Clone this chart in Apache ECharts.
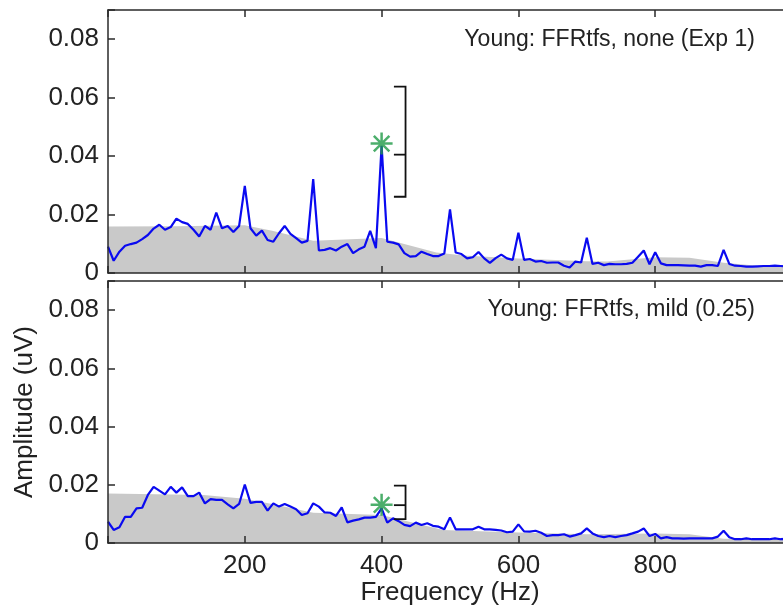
<!DOCTYPE html>
<html>
<head>
<meta charset="utf-8">
<script src="https://cdn.jsdelivr.net/npm/echarts@6/dist/echarts.min.js"></script>
<style>
html,body{margin:0;padding:0;background:#fff;overflow:hidden;width:783px;height:610px;}
#chart{width:800px;height:610px;}
</style>
</head>
<body>
<div id="chart"></div>
<script>
// Frequency bins (Hz)
var freq = [0, 8.3, 16.7, 25, 33.3, 41.7, 50, 58.3, 66.7, 75, 83.3, 91.7, 100, 108.3, 116.7, 125, 133.3, 141.7, 150, 158.3, 166.7, 175, 183.3, 191.7, 200, 208.3, 216.7, 225, 233.3, 241.7, 250, 258.3, 266.7, 275, 283.3, 291.7, 300, 308.3, 316.7, 325, 333.3, 341.7, 350, 358.3, 366.7, 375, 383.3, 391.7, 400, 408.3, 416.7, 425, 433.3, 441.7, 450, 458.3, 466.7, 475, 483.3, 491.7, 500, 508.3, 516.7, 525, 533.3, 541.7, 550, 558.3, 566.7, 575, 583.3, 591.7, 600, 608.3, 616.7, 625, 633.3, 641.7, 650, 658.3, 666.7, 675, 683.3, 691.7, 700, 708.3, 716.7, 725, 733.3, 741.7, 750, 758.3, 766.7, 775, 783.3, 791.7, 800, 808.3, 816.7, 825, 833.3, 841.7, 850, 858.3, 866.7, 875, 883.3, 891.7, 900, 908.3, 916.7, 925, 933.3, 941.7, 950, 958.3, 966.7, 975, 983.3, 991.7, 1000];

// Top panel: Young: FFRtfs, none (Exp 1)
var ampNone = [0.0090, 0.0042, 0.0073, 0.0093, 0.0099, 0.0104, 0.0116, 0.0130, 0.0152, 0.0165, 0.0148, 0.0157, 0.0186, 0.0174, 0.0168, 0.0148, 0.0125, 0.0161, 0.0148, 0.0207, 0.0153, 0.0161, 0.0140, 0.0161, 0.0298, 0.0153, 0.0128, 0.0145, 0.0113, 0.0107, 0.0136, 0.0161, 0.0134, 0.0119, 0.0104, 0.0110, 0.0321, 0.0077, 0.0079, 0.0085, 0.0077, 0.0090, 0.0099, 0.0068, 0.0081, 0.0090, 0.0144, 0.0085, 0.0435, 0.0107, 0.0104, 0.0098, 0.0068, 0.0056, 0.0058, 0.0073, 0.0065, 0.0058, 0.0058, 0.0067, 0.0218, 0.0070, 0.0065, 0.0050, 0.0054, 0.0072, 0.0050, 0.0035, 0.0051, 0.0063, 0.0050, 0.0045, 0.0138, 0.0045, 0.0048, 0.0039, 0.0041, 0.0035, 0.0036, 0.0036, 0.0025, 0.0019, 0.0039, 0.0036, 0.0121, 0.0031, 0.0035, 0.0027, 0.0031, 0.0030, 0.0030, 0.0031, 0.0035, 0.0056, 0.0077, 0.0030, 0.0071, 0.0033, 0.0027, 0.0027, 0.0027, 0.0026, 0.0025, 0.0025, 0.0022, 0.0027, 0.0027, 0.0024, 0.0079, 0.0031, 0.0025, 0.0024, 0.0022, 0.0022, 0.0023, 0.0024, 0.0024, 0.0025, 0.0024, 0.0023, 0.0022];

// Bottom panel: Young: FFRtfs, mild (0.25)
var ampMild = [0.0073, 0.0045, 0.0054, 0.0090, 0.0090, 0.0119, 0.0121, 0.0165, 0.0193, 0.0180, 0.0167, 0.0193, 0.0173, 0.0191, 0.0161, 0.0161, 0.0173, 0.0136, 0.0151, 0.0148, 0.0148, 0.0133, 0.0119, 0.0134, 0.0201, 0.0138, 0.0141, 0.0141, 0.0111, 0.0136, 0.0125, 0.0134, 0.0125, 0.0116, 0.0096, 0.0102, 0.0136, 0.0125, 0.0105, 0.0104, 0.0093, 0.0122, 0.0071, 0.0077, 0.0081, 0.0087, 0.0087, 0.0090, 0.0119, 0.0070, 0.0085, 0.0075, 0.0062, 0.0058, 0.0070, 0.0062, 0.0068, 0.0059, 0.0056, 0.0047, 0.0088, 0.0047, 0.0047, 0.0047, 0.0047, 0.0056, 0.0047, 0.0047, 0.0045, 0.0043, 0.0037, 0.0039, 0.0064, 0.0040, 0.0039, 0.0042, 0.0035, 0.0024, 0.0027, 0.0027, 0.0030, 0.0022, 0.0027, 0.0033, 0.0050, 0.0033, 0.0024, 0.0020, 0.0024, 0.0020, 0.0024, 0.0027, 0.0033, 0.0039, 0.0050, 0.0024, 0.0031, 0.0016, 0.0020, 0.0016, 0.0016, 0.0015, 0.0016, 0.0016, 0.0016, 0.0016, 0.0016, 0.0022, 0.0042, 0.0020, 0.0013, 0.0013, 0.0016, 0.0013, 0.0013, 0.0013, 0.0013, 0.0016, 0.0013, 0.0014, 0.0013];

// Noise floor (gray shaded)
var noiseFreqNone = [0, 100, 200, 240, 300, 400, 480, 520, 600, 700, 730, 800, 850, 900, 950, 1000];
var noiseNone     = [0.0159, 0.0160, 0.0163, 0.0145, 0.0110, 0.0120, 0.0070, 0.0060, 0.0050, 0.0040, 0.0039, 0.0054, 0.0052, 0.0035, 0.0025, 0.0022];
var noiseFreqMild = [0, 140, 200, 240, 300, 400, 490, 600, 700, 800, 850, 900, 1000];
var noiseMild     = [0.0170, 0.0165, 0.0152, 0.0134, 0.0104, 0.0096, 0.0045, 0.0036, 0.0030, 0.0033, 0.0030, 0.0015, 0.0010];

// Target frequency marker (asterisk) and bracket [freqLeft, freqRight, low, mid, high]
var markNone = [400, 0.0443];
var markMild = [400, 0.0131];
var bracketNone = [418, 435, 0.0261, 0.0405, 0.0638];
var bracketMild = [418, 435, 0.0082, 0.0130, 0.0197];

var panelTitles = ['Young: FFRtfs, none (Exp 1)', 'Young: FFRtfs, mild (0.25)'];
var xTicks = [200, 400, 600, 800];
var yTicks = [0, 0.02, 0.04, 0.06, 0.08];

var FONT = "'Liberation Sans', Arial, Helvetica, sans-serif";
var TXT = '#222';
var AX = '#2a2a2a';

function pairs(xs, ys) { return xs.map(function (x, i) { return [x, ys[i]]; }); }

function xAx(grid, pos, labels) {
  return {
    type: 'value', gridIndex: grid, position: pos, min: 0, max: 1000, interval: 200,
    axisLine: { show: true, onZero: false, lineStyle: { color: AX, width: 1.5 } },
    axisTick: { show: true, inside: true, length: 7, lineStyle: { color: AX, width: 1.5 } },
    axisLabel: {
      show: labels, margin: 10, fontSize: 26, fontFamily: FONT, color: TXT,
      formatter: function (v) { return xTicks.indexOf(v) >= 0 ? String(v) : ''; }
    },
    splitLine: { show: false }, z: 5,
    name: labels ? 'Frequency (Hz)' : '', nameLocation: 'middle', nameGap: 36,
    nameTextStyle: { fontSize: 26, fontFamily: FONT, color: TXT }
  };
}
function yAx(grid, pos, labels, name) {
  return {
    type: 'value', gridIndex: grid, position: pos, min: 0, max: 0.09, interval: 0.02,
    axisLine: { show: true, onZero: false, lineStyle: { color: AX, width: 1.5 } },
    axisTick: { show: true, inside: true, length: 7, lineStyle: { color: AX, width: 1.5 } },
    axisLabel: {
      show: labels, margin: 9, fontSize: 26, fontFamily: FONT, color: TXT,
      formatter: function (v) {
        for (var i = 0; i < yTicks.length; i++) {
          if (Math.abs(v - yTicks[i]) < 1e-9) return yTicks[i] === 0 ? '0' : yTicks[i].toFixed(2);
        }
        return '';
      }
    },
    splitLine: { show: false }, z: 5,
    name: name || '', nameLocation: 'middle', nameGap: 66, nameRotate: 90,
    nameTextStyle: { fontSize: 26, fontFamily: FONT, color: TXT }
  };
}

function bracketSeries(xi, yi, b) {
  return {
    type: 'custom', xAxisIndex: xi, yAxisIndex: yi, z: 6, silent: true,
    data: [b],
    encode: { x: [0, 1], y: [2, 3, 4] },
    renderItem: function (params, api) {
      var xl = api.value(0), xr = api.value(1);
      var lo = api.coord([xr, api.value(2)]);
      var md = api.coord([xr, api.value(3)]);
      var hi = api.coord([xr, api.value(4)]);
      var loL = api.coord([xl, api.value(2)]);
      var mdL = api.coord([xl, api.value(3)]);
      var hiL = api.coord([xl, api.value(4)]);
      var st = { stroke: '#111', lineWidth: 1.8, fill: null };
      return {
        type: 'group',
        children: [
          { type: 'polyline', shape: { points: [hiL, hi, lo, loL] }, style: st },
          { type: 'line', shape: { x1: mdL[0], y1: mdL[1], x2: md[0], y2: md[1] }, style: st }
        ]
      };
    }
  };
}

var star = 'path://M0,-10L0,10M-10,0L10,0M-7.07,-7.07L7.07,7.07M-7.07,7.07L7.07,-7.07';
function starSeries(xi, yi, p) {
  return {
    type: 'scatter', xAxisIndex: xi, yAxisIndex: yi, z: 7, silent: true,
    symbol: star, symbolSize: 22,
    itemStyle: { color: 'rgba(0,0,0,0)', borderColor: '#1f9a46', borderWidth: 2.5 },
    data: [p]
  };
}
function areaSeries(xi, yi, xs, ys) {
  return {
    type: 'line', xAxisIndex: xi, yAxisIndex: yi, z: 1, silent: true,
    showSymbol: false, symbol: 'none',
    lineStyle: { width: 0 }, areaStyle: { color: '#c9c9c9', opacity: 1 },
    data: pairs(xs, ys)
  };
}
function lineSeries(xi, yi, ys) {
  return {
    type: 'line', xAxisIndex: xi, yAxisIndex: yi, z: 3, silent: true,
    showSymbol: false, symbol: 'none',
    lineStyle: { color: '#0a0af0', width: 2.2 },
    data: pairs(freq, ys)
  };
}

var chart = echarts.init(document.getElementById('chart'), null, { renderer: 'canvas' });
chart.setOption({
  animation: false,
  backgroundColor: '#fff',
  grid: [
    { left: 108, top: 10, width: 684, height: 263 },
    { left: 108, top: 281, width: 684, height: 262 }
  ],
  xAxis: [xAx(0, 'bottom', false), xAx(0, 'top', false), xAx(1, 'bottom', true), xAx(1, 'top', false)],
  yAxis: [yAx(0, 'left', true), yAx(0, 'right', false), yAx(1, 'left', true, 'Amplitude (uV)'), yAx(1, 'right', false)],
  series: [
    areaSeries(0, 0, noiseFreqNone, noiseNone),
    lineSeries(0, 0, ampNone),
    bracketSeries(0, 0, bracketNone),
    starSeries(0, 0, markNone),
    areaSeries(2, 2, noiseFreqMild, noiseMild),
    lineSeries(2, 2, ampMild),
    bracketSeries(2, 2, bracketMild),
    starSeries(2, 2, markMild)
  ],
  graphic: [
    { type: 'text', x: 755, y: 40, z: 10, style: { text: panelTitles[0], align: 'right', verticalAlign: 'middle', fontSize: 23, fontFamily: FONT, fill: TXT } },
    { type: 'text', x: 755, y: 310, z: 10, style: { text: panelTitles[1], align: 'right', verticalAlign: 'middle', fontSize: 23, fontFamily: FONT, fill: TXT } }
  ]
});
</script>
</body>
</html>
